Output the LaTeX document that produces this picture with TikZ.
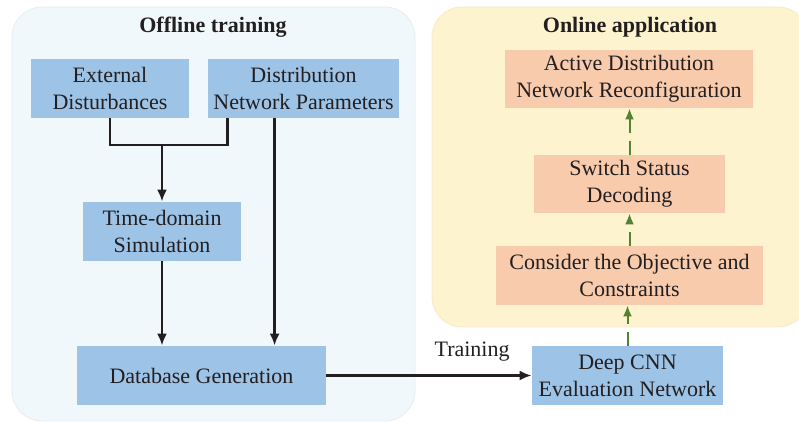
\documentclass[tikz,border=0pt]{standalone}
\usepackage{fontspec}
\setmainfont{Liberation Serif}
\usepackage[usenames,dvipsnames]{xcolor}
\usetikzlibrary{arrows.meta,calc}
\definecolor{boxblue}{HTML}{9DC3E6}
\definecolor{boxorange}{HTML}{F8CBAD}
\definecolor{offbg}{HTML}{F1F8FB}
\definecolor{offedge}{HTML}{E3EEF3}
\definecolor{onbg}{HTML}{FEF3CF}
\definecolor{onedge}{HTML}{F8EAC4}
\definecolor{arrgreen}{HTML}{548235}
\definecolor{txt}{HTML}{231F20}
\tikzset{
  blk/.style={rectangle, align=center, text=txt, inner sep=0pt,
    font=\fontsize{11}{13.5}\selectfont},
  bluebox/.style={blk, fill=boxblue},
  orangebox/.style={blk, fill=boxorange},
  arr/.style={draw=txt, line width=1.3pt, -{Latex[length=6pt,width=5pt]}},
  ln/.style={draw=txt, line width=1.3pt},
  garr/.style={draw=arrgreen, line width=1pt, dash pattern=on 7pt off 4pt,
    -{Latex[length=5.5pt,width=4.5pt]}}
}

\begin{document}
\begin{tikzpicture}[x=0.5pt, y=-0.5pt]
        \useasboundingbox (0, 0) rectangle (799, 422);

        % backgrounds
        \draw [fill=offbg, draw=offedge, rounded corners=15pt] (12, 7) rectangle (415, 421);
        \draw [fill=onbg, draw=onedge, rounded corners=15pt] (432, 7) rectangle (808, 327);
        \node [text=txt, font=\fontsize{11}{13}\selectfont\bfseries] (offt) at (213, 27) {Offline training};
        \node [text=txt, font=\fontsize{11}{13}\selectfont\bfseries] (ont) at (630, 27) {Online application};

        % offline part
        \node [bluebox, minimum width=79pt, minimum height=29.5pt] (ext) at (110, 88.5) {External\\Disturbances};
        \node [bluebox, minimum width=95.5pt, minimum height=29.5pt] (dist) at (303.5, 88.5) {Distribution\\Network Parameters};
        \node [bluebox, minimum width=79pt, minimum height=29.5pt] (time) at (162, 231.5) {Time-domain\\Simulation};
        \node [bluebox, minimum width=124.5pt, minimum height=29.5pt] (db) at (201.5, 375.5) {Database Generation};

        % online part
        \node [bluebox, minimum width=95.5pt, minimum height=29.5pt] (cnn) at (627.5, 375.5) {Deep CNN\\Evaluation Network};
        \node [orangebox, minimum width=133.5pt, minimum height=29.5pt] (obj) at (629.5, 275.5) {Consider the Objective and\\Constraints};
        \node [orangebox, minimum width=95.5pt, minimum height=29pt] (sw) at (629.5, 184) {Switch Status\\Decoding};
        \node [orangebox, minimum width=124pt, minimum height=29pt] (adnr) at (629, 79) {Active Distribution\\Network Reconfiguration};

        % connectors
        \coordinate (join) at (162, 145);
        \coordinate (dl) at ([xshift=10pt]dist.south west);
        \coordinate (dr) at ([xshift=33.5pt]dist.south west);
        \draw [ln] (ext.south) |- (join);
        \draw [ln] (dl) |- (join);
        \draw [arr] (join) -- (time.north);
        \draw [arr] (dr) -- (dr |- db.north);
        \draw [arr] (time.south) -- (time.south |- db.north);
        \draw [arr] (db.east) -- node [pos=0.71, above=3pt, text=txt, font=\fontsize{11}{13}\selectfont] (trn) {Training} (cnn.west);

        \draw [garr] (cnn.north) -- (cnn.north |- obj.south);
        \draw [garr] (obj.north) -- (obj.north |- sw.south);
        \draw [garr] (sw.north) -- (sw.north |- adnr.south);
      \end{tikzpicture}
\end{document}
